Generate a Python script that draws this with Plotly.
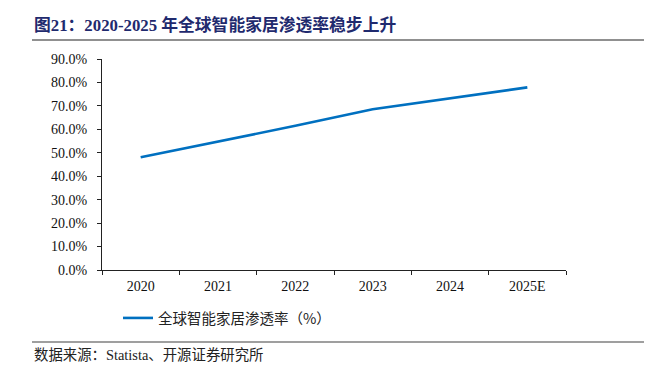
import plotly.graph_objects as go

years = ["2020", "2021", "2022", "2023", "2024", "2025E"]
penetration = [0.481, 0.548, 0.615, 0.686, 0.733, 0.779]
series_name = "全球智能家居渗透率（%）"
title_text = "图21：2020-2025 年全球智能家居渗透率稳步上升"
source_text = "数据来源：Statista、开源证券研究所"

OFF = 8  # page body margin
W, H = 652 - OFF, 378 - OFF
L, R, T, B = 102 - OFF, 86, 59 - OFF, 108
pw, ph = W - L - R, H - T - B

def px(x):
    return (x - OFF - L) / pw

def py(y):
    return (H - B - (y - OFF)) / ph

serif = "Liberation Serif, Times New Roman, Noto Sans CJK SC, serif"
cjk = "Noto Sans CJK SC, Liberation Serif, sans-serif"

fig = go.Figure()
fig.add_trace(go.Scatter(
    x=years, y=penetration, mode="lines", name=series_name,
    line=dict(color="#0070C0", width=2.6),
))

fig.update_layout(
    width=W, height=H,
    margin=dict(l=L, r=R, t=T, b=B, pad=0),
    paper_bgcolor="white", plot_bgcolor="white",
    showlegend=True,
    legend=dict(orientation="h", x=px(118), y=py(318), xanchor="left", yanchor="middle",
                font=dict(family=cjk, size=14.5, color="#222222"),
                bgcolor="rgba(0,0,0,0)", itemwidth=30),
    xaxis=dict(type="category", range=[-0.5, 5.5], showline=True, linecolor="#222222",
               linewidth=1, ticks="outside", tickson="boundaries", ticklen=4,
               tickcolor="#222222", showgrid=False, zeroline=False, ticklabelstandoff=3,
               tickfont=dict(family=serif, size=14, color="#111111")),
    yaxis=dict(range=[0, 0.9], dtick=0.1, tickformat=".1%", showline=True,
               linecolor="#222222", linewidth=1, ticks="outside", ticklen=4,
               tickcolor="#222222", showgrid=False, zeroline=False, ticklabelstandoff=7,
               tickfont=dict(family=serif, size=14, color="#111111")),
    shapes=[
        dict(type="line", xref="paper", yref="paper", x0=px(32), x1=px(647),
             y0=py(40), y1=py(40), line=dict(color="#222222", width=1.2)),
        dict(type="line", xref="paper", yref="paper", x0=px(32), x1=px(647),
             y0=py(342), y1=py(342), line=dict(color="#7F7F7F", width=1.5)),
    ],
    annotations=[
        dict(text="<b>" + title_text + "</b>", xref="paper", yref="paper",
             x=px(32), y=py(25), xanchor="left", yanchor="middle", showarrow=False,
             font=dict(family=serif, size=16.8, color="#1F2A6E")),
        dict(text=source_text, xref="paper", yref="paper",
             x=px(32), y=py(355), xanchor="left", yanchor="middle", showarrow=False,
             font=dict(family=serif, size=14.4, color="#222222")),
    ],
)

fig.write_html("out.html")
